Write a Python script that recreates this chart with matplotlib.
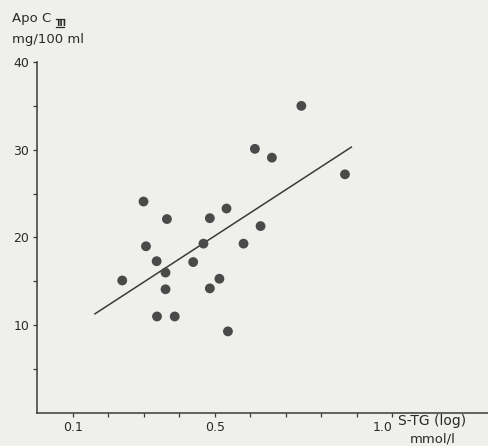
import numpy as np
import matplotlib.pyplot as plt

plt.rcParams['font.family'] = ['DejaVu Sans']

# S-TG (mmol/l) and Apo C-III (mg/100 ml)
stg = np.array([0.744, 0.613, 0.661, 0.867, 0.299, 0.533, 0.365, 0.486, 0.629,
                0.306, 0.468, 0.581, 0.336, 0.439, 0.361, 0.239, 0.513, 0.361,
                0.486, 0.337, 0.387, 0.537])
apo = np.array([35.0, 30.1, 29.1, 27.2, 24.1, 23.3, 22.1, 22.2, 21.3,
                19.0, 19.3, 19.3, 17.3, 17.2, 16.0, 15.1, 15.3, 14.1,
                14.2, 11.0, 11.0, 9.3])

# regression line end points
line_x = [0.162, 0.885]
line_y = [11.3, 30.3]

xticks = [0.1, 0.2, 0.3, 0.4, 0.5, 0.6, 0.7, 0.8, 0.9, 1.0]
xticklabels = ['0.1', '', '', '', '0.5', '', '', '', '', '1.0']
yticks = [5, 10, 15, 20, 25, 30, 35, 40]
yticklabels = ['', '10', '', '20', '', '30', '', '40']

bg = '#efefec'
ink = '#3a3a3a'
txt = '#2a2a2a'

fig = plt.figure(figsize=(4.88, 4.46), dpi=100, facecolor=bg)
ax = fig.add_axes([0.0768, 0.074, 0.923, 0.787])
ax.set_facecolor(bg)

ax.scatter(stg, apo, s=50, color='#4a4a4a', edgecolors='none', zorder=3)
ax.plot(line_x, line_y, color=ink, lw=1.1)

ax.set_xlim(0, 1.27)
ax.set_ylim(0, 40)
for s in ['top', 'right']:
    ax.spines[s].set_visible(False)
ax.spines['left'].set_bounds(0, 40)
for s in ['left', 'bottom']:
    ax.spines[s].set_color(ink)
    ax.spines[s].set_linewidth(1.1)

ax.set_xticks(xticks)
ax.set_xticklabels(xticklabels)
ax.set_yticks(yticks)
ax.set_yticklabels(yticklabels)
ax.tick_params(length=3, width=0.9, color=ink, labelsize=9, labelcolor=txt, pad=3)
# the "1.0" label sits left of its tick, next to the axis title
ax.get_xticklabels()[-1].set_horizontalalignment('right')

# y axis title: "Apo C" with a barred roman subscript
fig.text(0.0246, 0.951, 'Apo C', fontsize=9.5, color=txt)
fig.text(0.1155, 0.9425, 'III', fontsize=6.5, color=txt, fontweight='bold')
fig.add_artist(plt.Line2D([0.114, 0.132], [0.9405, 0.9405], color=txt, lw=0.9))
fig.add_artist(plt.Line2D([0.114, 0.132], [0.958, 0.958], color=txt, lw=0.9))
fig.text(0.0246, 0.9036, 'mg/100 ml', fontsize=9.5, color=txt)
fig.text(0.8155, 0.047, 'S-TG (log)', fontsize=10, color=txt)
fig.text(0.84, 0.008, 'mmol/l', fontsize=9.5, color=txt)

fig.savefig('out.png', dpi=100, facecolor=bg)
